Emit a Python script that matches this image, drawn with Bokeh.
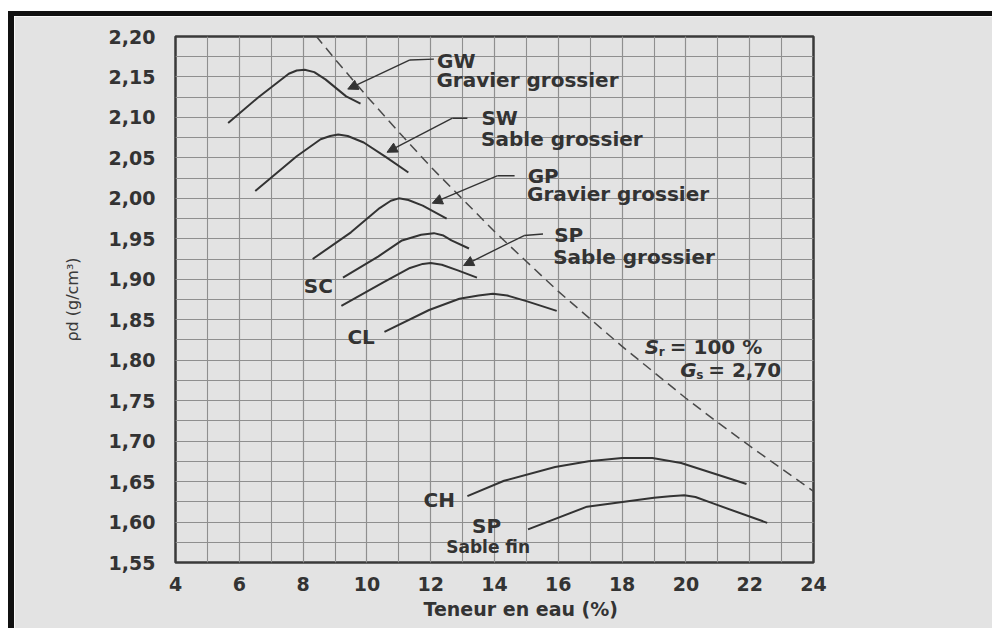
from bokeh.plotting import figure
from bokeh.models import (FixedTicker, CustomJSTickFormatter, Label, Arrow,
                          NormalHead, Title)
from bokeh.embed import file_html
from bokeh.resources import INLINE

# ---------------------------------------------------------------------------
# Compaction curves: water content w (%) against dry density rho_d (g/cm3)
# ---------------------------------------------------------------------------
gw_w = [5.65, 6.6, 7.55, 7.8, 8.05, 8.35, 8.7, 9.35, 9.8]
gw_rho = [2.093, 2.125, 2.154, 2.158, 2.159, 2.156, 2.147, 2.126, 2.117]

sw_w = [6.5, 7.8, 8.55, 8.85, 9.1, 9.4, 9.9, 10.6, 11.3]
sw_rho = [2.009, 2.052, 2.073, 2.077, 2.079, 2.077, 2.069, 2.051, 2.032]

gp_w = [8.3, 9.5, 10.4, 10.75, 11.0, 11.3, 11.75, 12.5]
gp_rho = [1.925, 1.958, 1.988, 1.997, 2.000, 1.998, 1.991, 1.975]

sc_w = [9.25, 10.35, 11.1, 11.7, 12.1, 12.4, 12.65, 13.2]
sc_rho = [1.902, 1.928, 1.948, 1.955, 1.957, 1.954, 1.948, 1.938]

sp_coarse_w = [9.2, 10.5, 11.35, 11.75, 12.0, 12.35, 12.85, 13.45]
sp_coarse_rho = [1.867, 1.896, 1.914, 1.919, 1.920, 1.918, 1.911, 1.902]

cl_w = [10.55, 11.95, 12.9, 13.5, 13.95, 14.4, 15.0, 15.95]
cl_rho = [1.835, 1.862, 1.876, 1.880, 1.882, 1.880, 1.873, 1.861]

ch_w = [13.15, 14.3, 15.9, 16.95, 18.0, 18.95, 19.85, 21.9]
ch_rho = [1.632, 1.651, 1.668, 1.675, 1.679, 1.679, 1.673, 1.647]

sp_fine_w = [15.05, 16.9, 19.0, 19.5, 19.95, 20.3, 20.85, 22.55]
sp_fine_rho = [1.591, 1.619, 1.630, 1.632, 1.633, 1.631, 1.623, 1.599]

# Saturation line, Sr = 100 %, Gs = 2,70
sat_w = [8.4, 9, 10, 11, 12, 13, 14, 15, 16, 17, 18, 19, 20, 21, 22, 23, 24]
sat_rho = [2.201, 2.172, 2.126, 2.082, 2.039, 1.999, 1.959, 1.922, 1.885,
           1.851, 1.817, 1.785, 1.753, 1.723, 1.694, 1.666, 1.638]

# Axis ticks
x_ticks = [4, 6, 8, 10, 12, 14, 16, 18, 20, 22, 24]
x_grid = [4, 5, 6, 7, 8, 9, 10, 11, 12, 13, 14, 15, 16, 17, 18, 19, 20,
          21, 22, 23, 24]
y_ticks = [1.55, 1.60, 1.65, 1.70, 1.75, 1.80, 1.85, 1.90, 1.95, 2.00,
           2.05, 2.10, 2.15, 2.20]
y_grid = [1.55, 1.575, 1.60, 1.625, 1.65, 1.675, 1.70, 1.725, 1.75, 1.775,
          1.80, 1.825, 1.85, 1.875, 1.90, 1.925, 1.95, 1.975, 2.00, 2.025,
          2.05, 2.075, 2.10, 2.125, 2.15, 2.175, 2.20]

# ---------------------------------------------------------------------------
# The panel sits inside a white page margin with a thick black rule on its
# top and left edges; the figure itself is the grey panel (border-box sized).
EDGE_LEFT, EDGE_TOP = 8, 11          # white margin
RULE_LEFT, RULE_TOP = 6, 5           # black rule thickness
W = 992 - EDGE_LEFT
H = 628 - EDGE_TOP
OX, OY = EDGE_LEFT + RULE_LEFT, EDGE_TOP + RULE_TOP
LEFT, RIGHT, TOP, BOTTOM = 175 - OX, 813 - OX, 36 - OY, 562 - OY
X0, X1, Y0, Y1 = 4, 24, 1.55, 2.20

BG = "#e3e3e3"
INK = "#333333"
GRID = "#8f8f8f"
FONT = "DejaVu Sans"

p = figure(width=W, height=H, x_range=(X0, X1), y_range=(Y0, Y1),
           output_backend="svg", toolbar_location=None,
           min_border_left=LEFT, min_border_right=W - RIGHT,
           min_border_top=TOP, min_border_bottom=H - BOTTOM,
           background_fill_color=BG, border_fill_color=BG,
           outline_line_color="#3a3a3a", outline_line_width=2.5)
p.styles = {
    "margin-left": f"{EDGE_LEFT}px",
    "margin-top": f"{EDGE_TOP}px",
    "border-left": f"{RULE_LEFT}px solid #111111",
    "border-top": f"{RULE_TOP}px solid #111111",
}

xt = FixedTicker(ticks=x_ticks, minor_ticks=x_grid)
yt = FixedTicker(ticks=y_ticks, minor_ticks=y_grid)
p.xaxis.ticker = xt
p.yaxis.ticker = yt
p.xgrid.ticker = xt
p.ygrid.ticker = yt
p.yaxis.formatter = CustomJSTickFormatter(
    code="return tick.toFixed(2).replace('.', ',');")

for ax in (p.xaxis, p.yaxis):
    ax.axis_line_color = None
    ax.major_tick_line_color = None
    ax.minor_tick_line_color = None
    ax.major_label_text_font = FONT
    ax.major_label_text_font_style = "bold"
    ax.major_label_text_font_size = "19px"
    ax.major_label_text_color = INK
p.xaxis.major_label_standoff = 8
p.yaxis.major_label_standoff = 14

p.yaxis.axis_label = "ρd (g/cm³)"
p.yaxis.axis_label_text_font = FONT
p.yaxis.axis_label_text_font_style = "normal"
p.yaxis.axis_label_text_font_size = "16px"
p.yaxis.axis_label_text_color = "#3a3a3a"
p.yaxis.axis_label_standoff = 24

p.add_layout(Title(text="Teneur en eau (%)", align="left", offset=248,
                   text_font=FONT, text_font_size="19px",
                   text_font_style="bold", text_color=INK, standoff=4),
             "below")

for g in (p.xgrid, p.ygrid):
    g.grid_line_color = GRID
    g.grid_line_width = 1.1
    g.minor_grid_line_color = GRID
    g.minor_grid_line_width = 1.1

# Compaction curves
curves = [(gw_w, gw_rho), (sw_w, sw_rho), (gp_w, gp_rho), (sc_w, sc_rho),
          (sp_coarse_w, sp_coarse_rho), (cl_w, cl_rho), (ch_w, ch_rho),
          (sp_fine_w, sp_fine_rho)]
for xs, ys in curves:
    p.line(xs, ys, line_color=INK, line_width=2, line_join="round")

# Zero-air-voids line
p.line(sat_w, sat_rho, line_color="#4a4a4a", line_width=1.5,
       line_dash="10 6")

# Leaders with arrowheads pointing at the curves
leaders = [
    ((12.1, 2.172), (11.35, 2.171), (9.4, 2.135)),     # GW
    ((13.15, 2.099), (12.68, 2.099), (10.63, 2.057)),  # SW
    ((14.63, 2.028), (14.1, 2.028), (12.05, 1.994)),   # GP
    ((15.52, 1.956), (14.93, 1.954), (13.03, 1.917)),  # SP coarse
]
for (ax_, ay_), (bx_, by_), (tx_, ty_) in leaders:
    p.line([ax_, bx_], [ay_, by_], line_color=INK, line_width=1.4)
    p.add_layout(Arrow(x_start=bx_, y_start=by_, x_end=tx_, y_end=ty_,
                       line_color=INK, line_width=1.4,
                       end=NormalHead(size=10, fill_color=INK,
                                      line_color=INK, line_width=1)))


def text(x, y, s, size="20px", style="bold", align="left",
         xoff=0, yoff=0, color=INK):
    p.add_layout(Label(x=x, y=y, text=s, text_font=FONT,
                       text_font_size=size, text_font_style=style,
                       text_color=color, text_align=align,
                       text_baseline="middle",
                       x_offset=xoff, y_offset=yoff))


# Curve names
text(12.2, 2.170, "GW")
text(12.18, 2.146, "Gravier grossier")
text(13.59, 2.099, "SW")
text(13.58, 2.073, "Sable grossier")
text(15.04, 2.028, "GP")
text(15.02, 2.005, "Gravier grossier")
text(15.87, 1.955, "SP")
text(15.84, 1.928, "Sable grossier")
text(8.48, 1.892, "SC", align="center")
text(9.82, 1.829, "CL", align="center")
text(12.27, 1.627, "CH", align="center")
text(13.75, 1.595, "SP", align="center")
text(13.8, 1.569, "Sable fin", size="17px", align="center")

# Saturation annotation
text(18.71, 1.816, "S", style="bold italic")
text(18.71, 1.816, "r", size="12px", xoff=14, yoff=-5)
text(18.71, 1.816, "= 100 %", xoff=25)
text(19.82, 1.788, "G", style="bold italic")
text(19.82, 1.788, "s", size="12px", xoff=16, yoff=-5)
text(19.82, 1.788, "= 2,70", xoff=28)

open("out.html", "w").write(file_html(p, INLINE))
